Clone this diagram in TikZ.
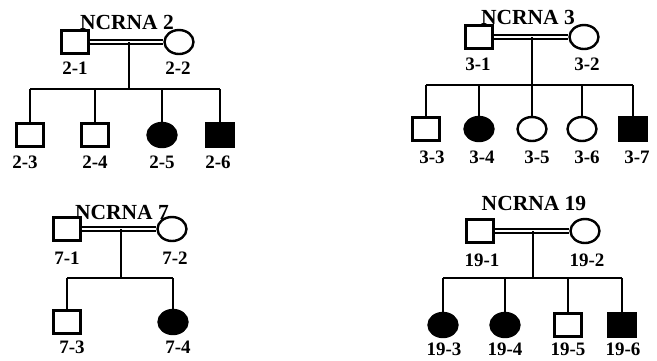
\documentclass[tikz,border=0pt]{standalone}
\usepackage{fontspec}
\setmainfont{Liberation Serif}
\usetikzlibrary{shapes.geometric}

\begin{document}
\begin{tikzpicture}[
    x=1pt,
    y=-1pt,
    male/.style={draw, line width=2.4pt, rectangle, inner sep=0pt,
      minimum width=27, minimum height=23},
    female/.style={draw, line width=2.4pt, ellipse, inner sep=0pt,
      minimum width=29, minimum height=24},
    affected/.style={fill=black},
    tag/.style={font=\fontsize{19}{22}\selectfont\bfseries, inner sep=0pt},
    title/.style={font=\fontsize{21.5}{25}\selectfont\bfseries, inner sep=0pt},
    marriage/.style={double, line width=1.6pt, double distance=1.9pt},
    line/.style={line width=1.7pt},
  ]
  \useasboundingbox (0, 0) rectangle (657, 360);

  % NCRNA 2
  \node[title] (t2) at (127, 22) {NCRNA 2};
  \node[male] (p21) at (75, 42) {};
  \node[female] (p22) at (179, 42) {};
  \node[male] (p23) at (30, 135) {};
  \node[male] (p24) at (95, 135) {};
  \node[female, affected] (p25) at (162, 135) {};
  \node[male, affected] (p26) at (220, 135) {};
  \node[tag] (l21) at (75, 68) {2-1};
  \node[tag] (l22) at (178, 68) {2-2};
  \node[tag] (l23) at (25, 162) {2-3};
  \node[tag] (l24) at (95, 162) {2-4};
  \node[tag] (l25) at (162, 162) {2-5};
  \node[tag] (l26) at (218, 162) {2-6};
  \coordinate (c2) at (129, 42);
  \coordinate (s2) at (129, 89);
  \draw[marriage] (p21) -- (p22);
  \draw[line] (c2) -- (s2);
  \draw[line] (p23 |- s2) -- (p26 |- s2);
  \foreach \k in {p23, p24, p25, p26}
    \draw[line] (\k |- s2) -- (\k);

  % NCRNA 3
  \node[title] (t3) at (528, 17) {NCRNA 3};
  \node[male] (p31) at (479, 37) {};
  \node[female] (p32) at (584, 37) {};
  \node[male] (p33) at (426, 129) {};
  \node[female, affected] (p34) at (479, 129) {};
  \node[female] (p35) at (532, 129) {};
  \node[female] (p36) at (582, 129) {};
  \node[male, affected] (p37) at (633, 129) {};
  \node[tag] (l31) at (478, 64) {3-1};
  \node[tag] (l32) at (587, 64) {3-2};
  \node[tag] (l33) at (432, 157) {3-3};
  \node[tag] (l34) at (482, 157) {3-4};
  \node[tag] (l35) at (537, 157) {3-5};
  \node[tag] (l36) at (587, 157) {3-6};
  \node[tag] (l37) at (637, 157) {3-7};
  \coordinate (c3) at (532, 37);
  \coordinate (s3) at (532, 85);
  \draw[marriage] (p31) -- (p32);
  \draw[line] (c3) -- (s3);
  \draw[line] (p33 |- s3) -- (p37 |- s3);
  \foreach \k in {p33, p34, p35, p36, p37}
    \draw[line] (\k |- s3) -- (\k);

  % NCRNA 7
  \node[title] (t7) at (122, 212) {NCRNA 7};
  \node[male] (p71) at (67, 229) {};
  \node[female] (p72) at (172, 229) {};
  \node[male] (p73) at (67, 322) {};
  \node[female, affected] (p74) at (173, 322) {};
  \node[tag] (l71) at (67, 258) {7-1};
  \node[tag] (l72) at (175, 258) {7-2};
  \node[tag] (l73) at (72, 347) {7-3};
  \node[tag] (l74) at (178, 347) {7-4};
  \coordinate (c7) at (121, 229);
  \coordinate (s7) at (121, 278);
  \draw[marriage] (p71) -- (p72);
  \draw[line] (c7) -- (s7);
  \draw[line] (p73 |- s7) -- (p74 |- s7);
  \foreach \k in {p73, p74}
    \draw[line] (\k |- s7) -- (\k);

  % NCRNA 19
  \node[title] (t19) at (534, 203) {NCRNA 19};
  \node[male] (p191) at (480, 231) {};
  \node[female] (p192) at (585, 231) {};
  \node[female, affected] (p193) at (443, 325) {};
  \node[female, affected] (p194) at (505, 325) {};
  \node[male] (p195) at (568, 325) {};
  \node[male, affected] (p196) at (622, 325) {};
  \node[tag] (l191) at (482, 260) {19-1};
  \node[tag] (l192) at (587, 260) {19-2};
  \node[tag] (l193) at (444, 349) {19-3};
  \node[tag] (l194) at (505, 349) {19-4};
  \node[tag] (l195) at (568, 349) {19-5};
  \node[tag] (l196) at (623, 349) {19-6};
  \coordinate (c19) at (533, 231);
  \coordinate (s19) at (533, 278);
  \draw[marriage] (p191) -- (p192);
  \draw[line] (c19) -- (s19);
  \draw[line] (p193 |- s19) -- (p196 |- s19);
  \foreach \k in {p193, p194, p195, p196}
    \draw[line] (\k |- s19) -- (\k);
\end{tikzpicture}
\end{document}
